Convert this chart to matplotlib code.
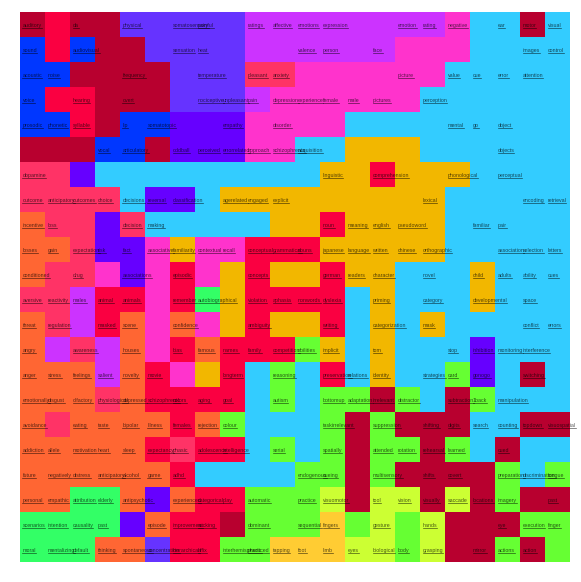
import numpy as np
import matplotlib
matplotlib.use("Agg")
import matplotlib.pyplot as plt
from matplotlib.colors import ListedColormap
from matplotlib.lines import Line2D
from matplotlib.transforms import IdentityTransform

# cluster colours
palette = {
    "D": "#B8002F",  # dark red
    "R": "#FA0041",  # red
    "B": "#0037FF",  # blue
    "P": "#6633FF",  # purple
    "V": "#6600FF",  # violet
    "M": "#CC33FF",  # magenta purple
    "K": "#FF33CC",  # pink
    "S": "#FF3366",  # salmon
    "C": "#33CCFF",  # cyan
    "Y": "#F2B700",  # yellow
    "O": "#FF6633",  # orange
    "G": "#66FF33",  # green
    "L": "#33FF66",  # light green
    "W": "#CCFF33",  # yellow green
    "F": "#FFCC33",  # gold
}

cells = [
    "DRDDPPPPPMMMMMMMMKCCDC",
    "BRBDDPPPPMMMMMMKKKCCCC",
    "BBDDDDPPPSSKKKKKKCCCCC",
    "BRRDDDPPPMKKKKKKCCCCCC",
    "BBRDBBVVVKKKKCCCCCCCCC",
    "DDDBBDVVVKKCCYYYCCCCCC",
    "SSVCCCCCCCCCYYRYYYCCCC",
    "SSSSCVVCYYYYYYYYYCCCCC",
    "OSSVSCCCCCYYRYYYYCCCCC",
    "OOSVVKYKKRRRYYYYYCCCCC",
    "OSSKVKRKYRYYRYYCCCYCCC",
    "SSMRRKRLYRRRRCYCCCYCCC",
    "OSMROKOKYRYYRCYCYCCCCC",
    "OMSMOKRORRRGYCYCCCVCCC",
    "OOOMORKYRCGCRCYCCGVCDC",
    "OOOSORRRRCGCGGDGCDGCCC",
    "OSOOOOROGCCCGDGDDDCCDD",
    "OOOOORSRRCGCGDGGDGCDCC",
    "OOOOOORCCCCGGDGDDDDGCG",
    "OOLLOVORRGGGWDWWDWDGDD",
    "LLLLVORRDGGGFGWGWDDDGG",
    "LLLOOPRRGGFFFWWGWDDGDG",
]

words = [
    "auditory,,da,,physical,,somatosensory,painful,,ratings,affective,emotions,expression,,,emotion,rating,negative,,ear,motor,visual",
    "sound,,audiovisual,,,,sensation,heat,,,,valence,person,,face,,,,,,images,control",
    "acoustic,noise,,,frequency,,,temperature,,pleasant,anxiety,,,,,picture,,value,cue,error,attention,",
    "voice,,hearing,,overt,,,nociceptive,unpleasant,pain,depression,experience,female,male,pictures,,perception,,,,,",
    "prosodic,phonetic,syllable,,lip,somatotopic,,,empathy,,disorder,,,,,,,mental,go,object,,",
    ",,,vocal,articulatory,,oddball,perceived,errorrelated,approach,schizophrenia,acquisition,,,,,,,,objects,,",
    "dopamine,,,,,,,,,,,,linguistic,,comprehension,,,phonological,,perceptual,,",
    "outcome,anticipatory,outcomes,choice,decisions,reversal,classification,,agerelated,engaged,explicit,,,,,,lexical,,,,encoding,retrieval",
    "incentive,loss,,,decision,making,,,,,,,noun,meaning,english,pseudoword,,,familiar,pair,,",
    "losses,gain,expectation,risk,fact,associative,familiarity,contextual,recall,conceptual,grammatical,nouns,japanese,language,written,chinese,orthographic,,,association,selection,letters",
    "conditioned,,drug,,associations,,episodic,,,concepts,,,german,readers,character,,novel,,child,adults,ability,cues",
    "aversive,reactivity,males,animal,animals,,remember,autobiographical,,violation,aphasia,nonwords,dyslexia,,priming,,category,,developmental,,space,",
    "threat,regulation,,masked,scene,,confidence,,,ambiguity,,,writing,,categorization,,mask,,,,conflict,errors",
    "angry,,awareness,,houses,,bias,famous,names,family,competition,abilities,implicit,,tom,,,stop,inhibition,monitoring,interference,",
    "anger,stress,feelings,salient,novelty,movie,,,longterm,,reasoning,,preservation,relations,identity,,strategies,card,gonogo,,switching,",
    "emotionally,disgust,olfactory,physiological,depressed,schizophrenic,colors,aging,goal,,autism,,bottomup,adaptation,irrelevant,distractor,,subtraction,1back,manipulation,,",
    "avoidance,,eating,taste,bipolar,illness,females,rejection,colour,,,,taskirrelevant,,suppression,,shifting,digits,search,counting,topdown,visuospatial",
    "addiction,allele,motivation,heart,sleep,expectancy,phasic,adolescence,intelligence,,serial,,spatially,,attended,rotation,rehearsal,learned,,cued,,",
    "future,negatively,distress,anticipatory,alcohol,game,adhd,,,,,endogenous,cueing,,multisensory,,shifts,covert,,preparation,discrimination,tongue",
    "personal,empathic,attribution,elderly,antipsychotic,,experienced,categorical,play,automatic,,practice,visuomotor,,tool,vision,visually,saccade,locations,imagery,,past",
    "scenarios,intention,causality,past,,episode,improvement,sucking,,dominant,,sequential,fingers,,gesture,,hands,,,eye,execution,finger",
    "moral,mentalizing,default,thinking,spontaneous,concentration,hierarchical,affix,interhemispheric,practiced,tapping,foot,limb,eyes,biological,body,grasping,,mirror,actions,action,",
]

codes = list(palette)
grid = np.array([[codes.index(ch) for ch in row] for row in cells])
n_rows, n_cols = grid.shape

fig = plt.figure(figsize=(5.81, 5.82), dpi=100)
ax = fig.add_axes([20 / 581, 20 / 582, 550 / 581, 550 / 582])
ax.imshow(
    grid,
    cmap=ListedColormap([palette[c] for c in codes]),
    vmin=-0.5,
    vmax=len(codes) - 0.5,
    extent=(0, n_cols, n_rows, 0),
    interpolation="nearest",
    aspect="auto",
)
ax.set_xlim(0, n_cols)
ax.set_ylim(n_rows, 0)
ax.axis("off")

labels = []
for r, line in enumerate(words):
    for c, w in enumerate(line.split(",")):
        if w:
            t = ax.text(
                c + 0.1, r + 0.55, w,
                fontsize=3.8, family="Liberation Sans",
                ha="left", va="center", color="#000000", alpha=0.65,
            )
            labels.append(t)

# underline every word
fig.canvas.draw()
renderer = fig.canvas.get_renderer()
for t in labels:
    bb = t.get_window_extent(renderer)
    fig.add_artist(Line2D([bb.x0, bb.x1], [bb.y0 + 0.6, bb.y0 + 0.6],
                          transform=IdentityTransform(), lw=0.5,
                          color="#000000", alpha=0.65))

fig.savefig("out.png", dpi=100)
